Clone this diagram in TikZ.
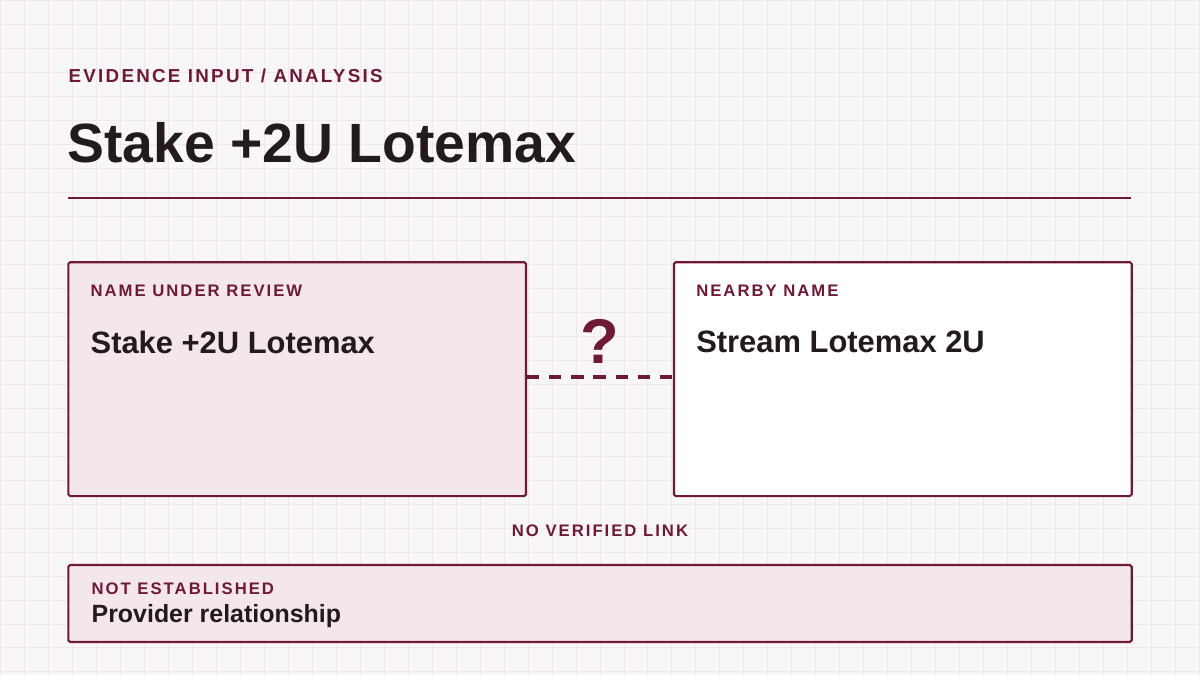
\documentclass[tikz,border=0pt]{standalone}
\usepackage{fontspec}
\setmainfont{Liberation Sans}
\newfontfamily\capsfont[LetterSpace=12]{Liberation Sans}
\usetikzlibrary{positioning}
\definecolor{maroon}{HTML}{6E1A37}
\definecolor{ink}{HTML}{231A1E}
\definecolor{paper}{HTML}{F9F6F7}
\definecolor{gridline}{HTML}{F0E8EA}
\definecolor{blush}{HTML}{F4E7EB}
\tikzset{
	tag/.style={anchor=west, inner sep=0, text=maroon, font=\capsfont\bfseries\fontsize{9.5}{11}\selectfont},
	entry/.style={anchor=west, inner sep=0, text=ink, font=\bfseries\fontsize{17.6}{20}\selectfont},
	box/.style={draw=maroon, line width=1.2pt, rounded corners=1pt}
}
\begin{document}
\begin{tikzpicture}[x=0.02cm, y=-0.02cm]
	\fill[paper] (0,0) rectangle (1200,675);
	\draw[gridline, line width=0.4pt, step=0.48cm] (0,0) grid (1200,675);
	\useasboundingbox (0,0) rectangle (1200,675);

	\node[tag, font=\capsfont\bfseries\fontsize{10.7}{12}\selectfont] (kicker) at (68,76) {EVIDENCE INPUT / ANALYSIS};
	\node[anchor=west, inner sep=0, text=ink, font=\bfseries\fontsize{31.5}{36}\selectfont] (title) at (67,142) {Stake +2U Lotemax};
	\draw[maroon, line width=1.2pt] (68,198) -- (1131,198);

	\draw[box, fill=blush] (68,262) rectangle (526,496);
	\draw[box, fill=white] (674,262) rectangle (1132,496);
	\coordinate (leftedge) at (527,377);
	\coordinate (rightedge) at (673,377);
	\node[tag] (reviewtag) at (90,291) {NAME UNDER REVIEW};
	\node[entry] (review) at (90,342) {Stake +2U Lotemax};
	\node[tag] (nearbytag) at (696,291) {NEARBY NAME};
	\node[entry] (nearby) at (696,342) {Stream Lotemax 2U};

	\draw[maroon, line width=2pt, dash pattern=on 7pt off 5.6pt] (leftedge) -- (rightedge);
	\node[text=maroon, inner sep=0, font=\bfseries\fontsize{36}{40}\selectfont] (query) at (600,341) {?};
	\node[tag, anchor=center] (nolink) at (600,531) {NO VERIFIED LINK};

	\draw[box, fill=blush] (68,565) rectangle (1132,642);
	\node[tag] (statustag) at (91,589) {NOT ESTABLISHED};
	\node[anchor=west, inner sep=0, text=ink, font=\bfseries\fontsize{14.2}{17}\selectfont] (status) at (91,616) {Provider relationship};
\end{tikzpicture}
\end{document}
